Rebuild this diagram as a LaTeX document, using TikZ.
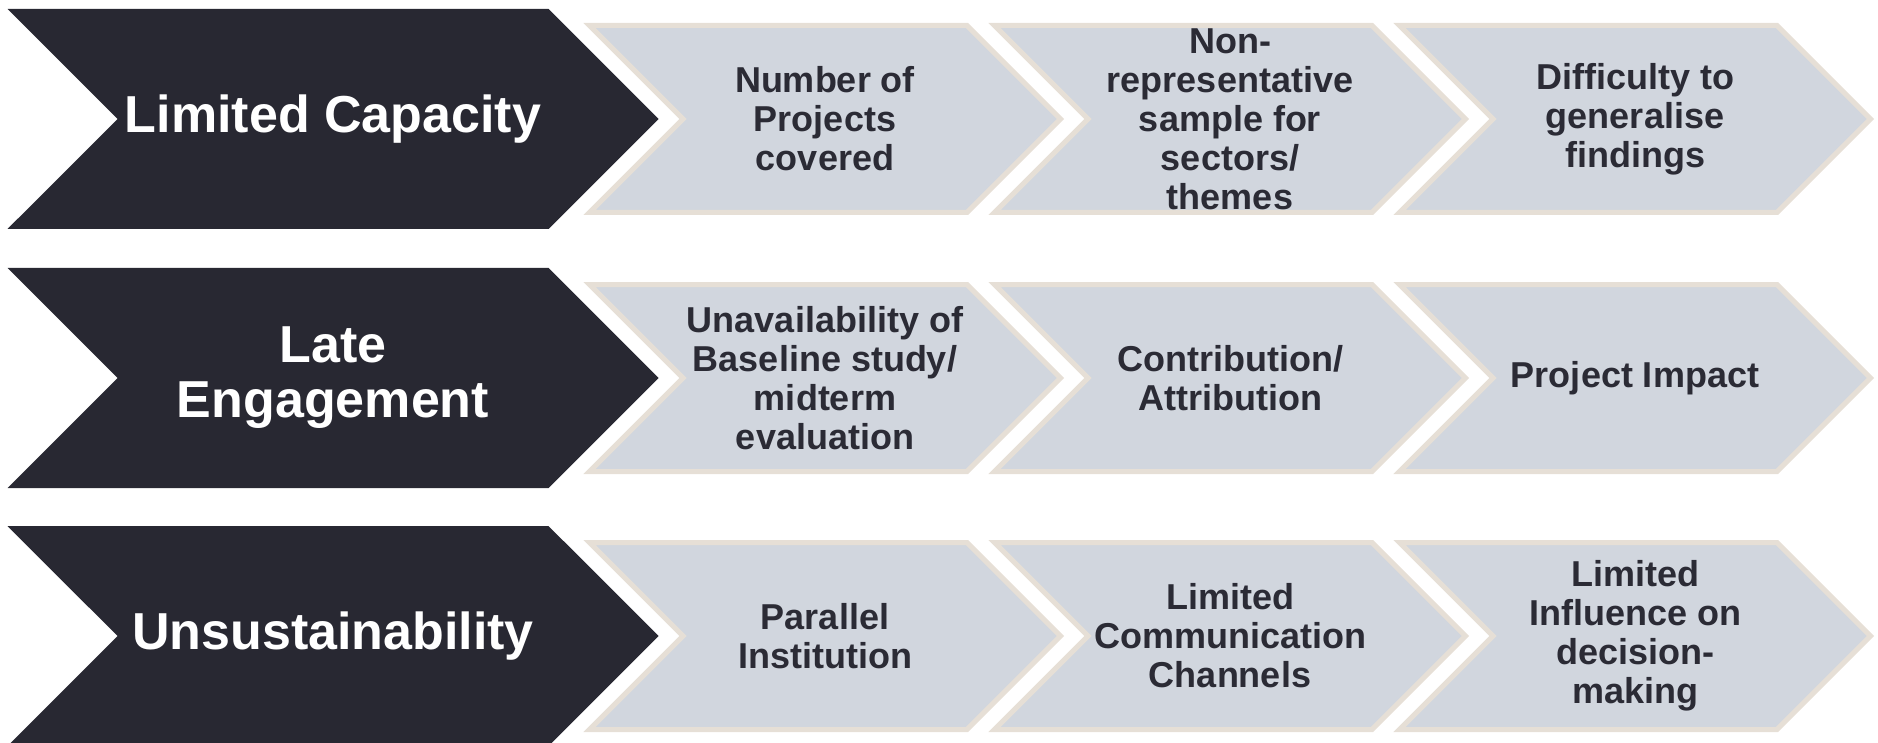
\documentclass[tikz,border=0pt]{standalone}
\usepackage{fontspec}
\setmainfont{Liberation Sans}
\usepackage{xcolor}
\usepackage{tikz}
\usetikzlibrary{shapes.symbols}

\definecolor{darkbox}{HTML}{282832}
\definecolor{lightbox}{HTML}{D1D6DE}
\definecolor{boxedge}{HTML}{E6DFD6}
\definecolor{boxtext}{HTML}{2B2B35}

\begin{document}
\begin{tikzpicture}[
    x=1pt,y=-1pt,
    chev/.style={signal,signal from=west,signal to=east,signal pointer angle=90,
        inner sep=0pt,align=center,font=\bfseries},
    cause/.style={chev,fill=darkbox,text=white,minimum width=651,minimum height=220,
        font=\bfseries\fontsize{52}{55}\selectfont},
    effect/.style={chev,fill=lightbox,draw=boxedge,line width=5,text=boxtext,
        minimum width=471,minimum height=187,
        font=\bfseries\fontsize{36}{39}\selectfont}
]
    \useasboundingbox (0,0) rectangle (1878,743);

    % Limited capacity
    \node[cause] (CAP) at (333,119) {Limited Capacity};
    \node[effect] (CAP1) at (825,119) {Number of\\Projects\\covered};
    \node[effect] (CAP2) at (1230,119) {Non-\\representative\\sample for\\sectors/\\themes};
    \node[effect] (CAP3) at (1635,119) {Difficulty to\\generalise\\findings};

    % Late engagement
    \node[cause] (LATE) at (333,378) {Late\\Engagement};
    \node[effect] (LATE1) at (825,378) {Unavailability of\\Baseline study/\\midterm\\evaluation};
    \node[effect] (LATE2) at (1230,378) {Contribution/\\Attribution};
    \node[effect] (LATE3) at (1635,378) {Project Impact};

    % Unsustainability
    \node[cause] (UNS) at (333,636) {Unsustainability};
    \node[effect] (UNS1) at (825,636) {Parallel\\Institution};
    \node[effect] (UNS2) at (1230,636) {Limited\\Communication\\Channels};
    \node[effect] (UNS3) at (1635,636) {Limited\\Influence on\\decision-\\making};
\end{tikzpicture}
\end{document}
